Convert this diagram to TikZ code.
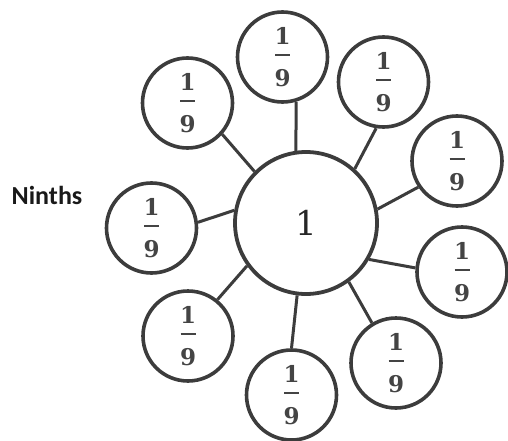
\documentclass[tikz,border=0pt]{standalone}
\usepackage{fontspec}
\newfontfamily\labelfont{Carlito}
\newfontfamily\digitfont{DejaVu Serif}
\usepackage{tikz}

\definecolor{ringgray}{HTML}{3C3C3C}
\definecolor{fracgray}{HTML}{444444}
% one ninth, stacked by hand
\newcommand{\ninth}{\vbox{\offinterlineskip\halign{\hfil##\hfil\cr
  \textbf{1}\cr\noalign{\kern10pt}
  \vrule width15pt height2pt depth0pt\cr\noalign{\kern13pt}
  \textbf{9}\cr}}}

\begin{document}
\begin{tikzpicture}[x=1pt,y=-1pt,
  part/.style={circle,draw=ringgray,line width=3.6pt,minimum size=90pt,inner sep=0pt,
    text=fracgray,font=\digitfont\fontsize{23}{28}\selectfont},
  whole/.style={circle,draw=ringgray,line width=3.8pt,minimum size=142pt,inner sep=0pt,
    text=black!85,font=\digitfont\fontsize{34}{40}\selectfont},
  spoke/.style={draw=ringgray,line width=3pt}]
 \useasboundingbox (0,0) rectangle (508,441);
 \node[whole] (one) at (306,223) {1};
 \node[part] (top) at (282.5,57) {\ninth};
 \node[part] (topleft) at (187.5,103) {\ninth};
 \node[part] (topright) at (383.5,82) {\ninth};
 \node[part] (rightup) at (457,161) {\ninth};
 \node[part] (rightlow) at (462,272) {\ninth};
 \node[part] (botright) at (396,363) {\ninth};
 \node[part] (bot) at (291.5,395) {\ninth};
 \node[part] (botleft) at (188,336) {\ninth};
 \node[part] (left) at (151.5,228) {\ninth};
 \node[text=black!90,font=\labelfont\bfseries\fontsize{26}{30}\selectfont] (title) at (47,195) {Ninths};
 \draw[spoke] (top.-73) -- (one.98);
 \draw[spoke] (topleft.-42) -- (one.135);
 \draw[spoke] (topright.-99) -- (one.48);
 \draw[spoke] (rightup.-146) -- (one.11);
 \draw[spoke] (rightlow.175) -- (one.-30);
 \draw[spoke] (botright.121) -- (one.-54);
 \draw[spoke] (bot.90) -- (one.-97);
 \draw[spoke] (botleft.51) -- (one.-144);
 \draw[spoke] (left.7) -- (one.170);
\end{tikzpicture}
\end{document}
